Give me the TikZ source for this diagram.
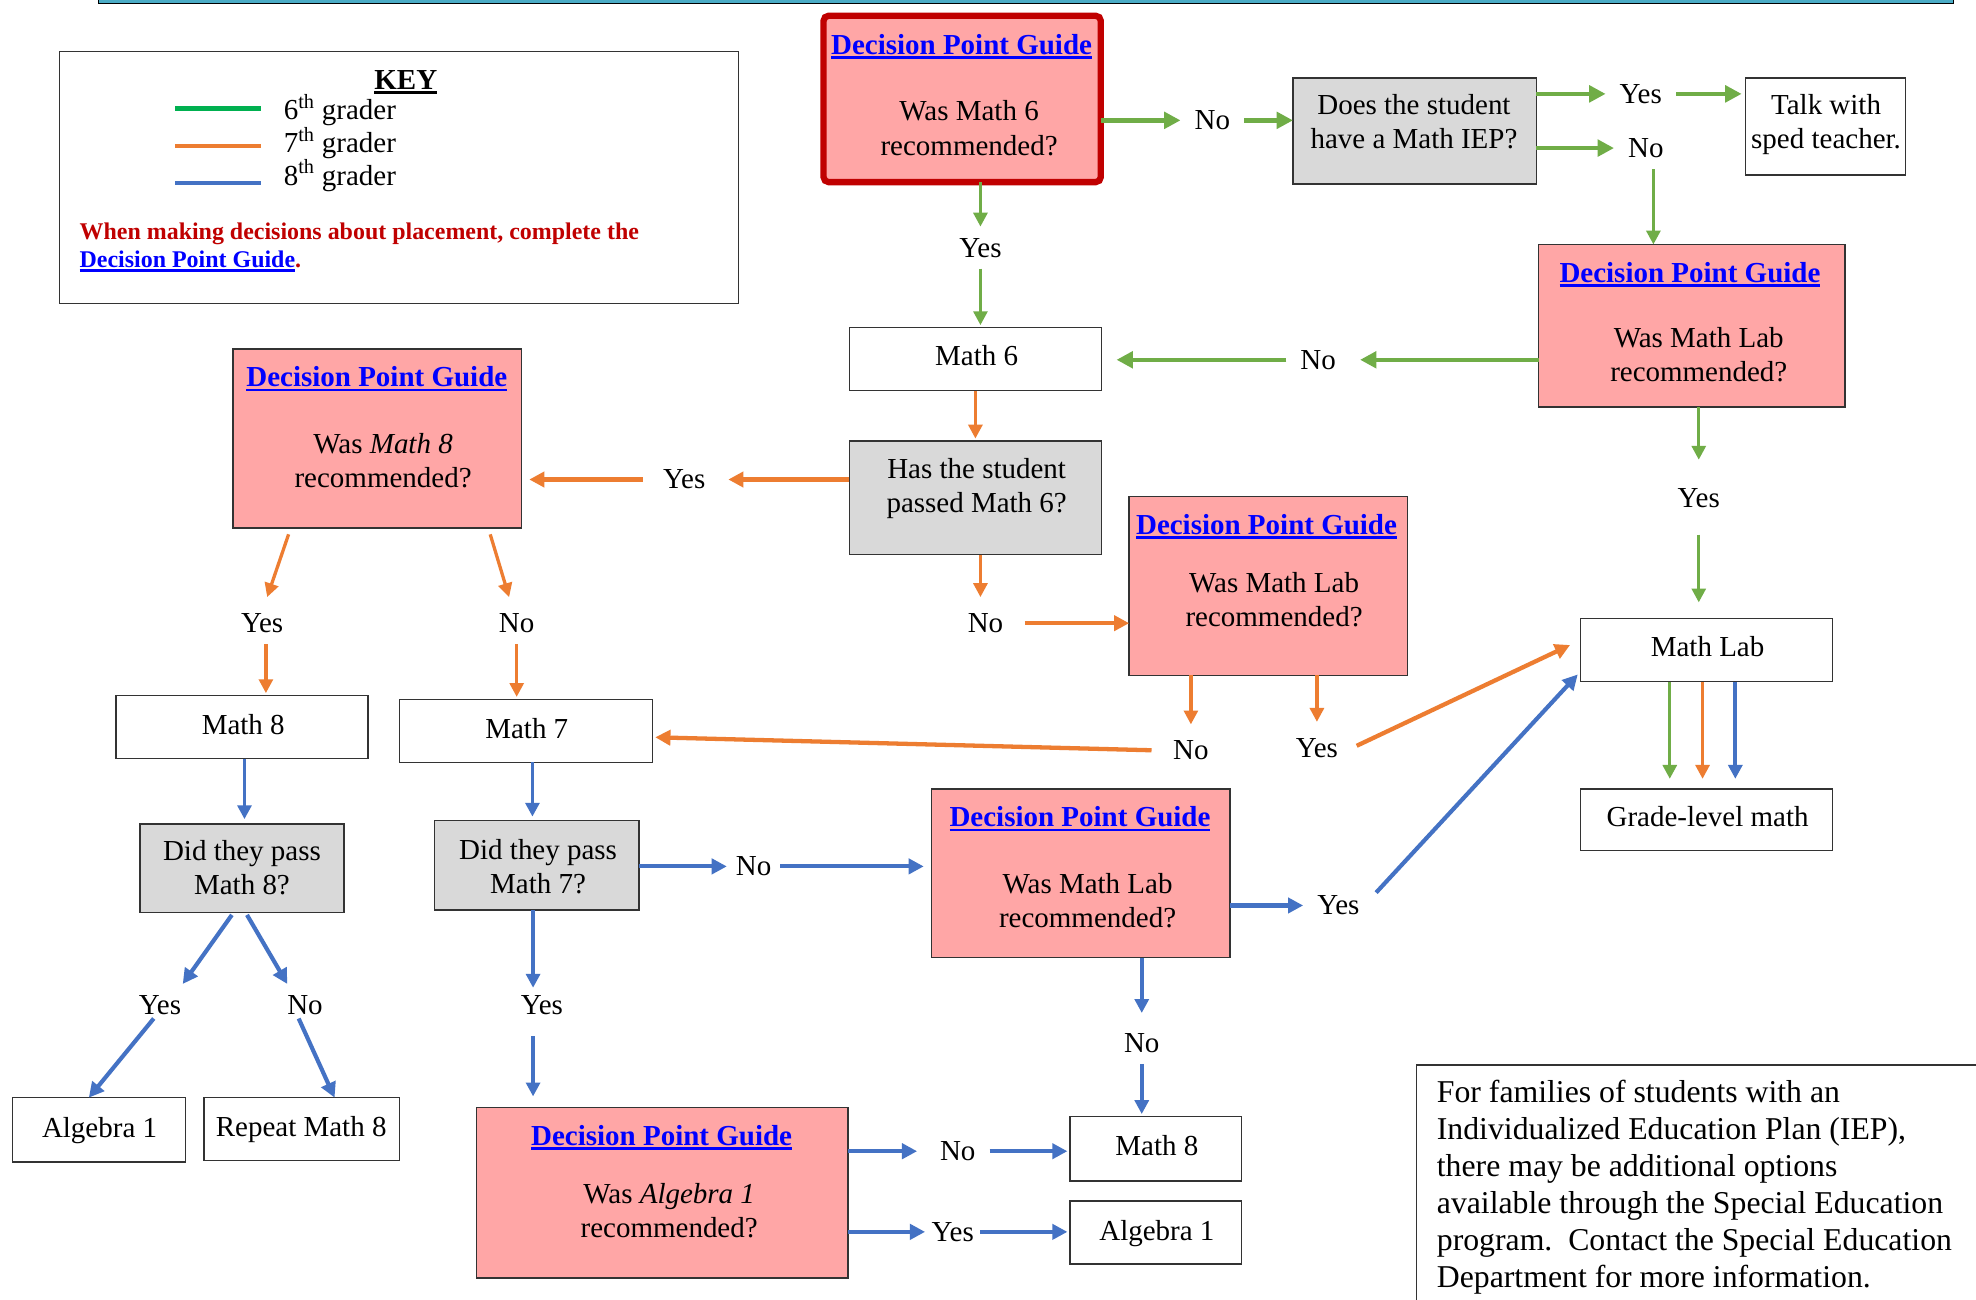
\documentclass[tikz,border=0pt]{standalone}
\usepackage{fontspec}
\setmainfont{Liberation Serif}
\usetikzlibrary{arrows.meta}
\definecolor{pinkf}{HTML}{FFA6A6}
\definecolor{grayf}{HTML}{D9D9D9}
\definecolor{gr}{HTML}{70AD47}
\definecolor{orr}{HTML}{ED7D31}
\definecolor{bl}{HTML}{4472C4}
\definecolor{keygreen}{HTML}{00B050}
\definecolor{dred}{HTML}{C00000}
\definecolor{linkblue}{HTML}{0000FF}
\definecolor{barteal}{HTML}{4BACC6}
\newcommand\fs{\fontsize{23}{27}\selectfont}
\newcommand\myul[1]{\setbox0=\hbox{#1}\rlap{\rule[-3.5pt]{\wd0}{2pt}}\box0}
\newcommand\dpgt{{\color{linkblue}\bfseries\myul{Decision Point Guide}}}
\newcommand\ml[1]{\begin{tabular}[t]{@{}c@{}}#1\end{tabular}}
\begin{document}
\begin{tikzpicture}[x=1pt,y=-1pt,
  box/.style={draw=black!80, line width=1.1pt, anchor=north west, inner sep=0pt, outer sep=0pt, fill=white},
  dpg/.style={box, fill=pinkf},
  qbox/.style={box, fill=grayf},
  txt/.style={anchor=base, inner sep=0pt, font=\fs},
  lbl/.style={anchor=base, font=\fs, inner xsep=11pt, inner ysep=9pt, text height=15pt, text depth=0pt},
  ga/.style={draw=gr, line width=3.6pt, -{Triangle[length=13pt,width=13pt]}},
  gat/.style={draw=gr, line width=2.6pt, -{Triangle[length=11pt,width=11pt]}},
  oa/.style={draw=orr, line width=3.4pt, -{Triangle[length=12pt,width=12pt]}},
  oat/.style={draw=orr, line width=2.6pt, -{Triangle[length=11pt,width=11pt]}},
  ba/.style={draw=bl, line width=3.3pt, -{Triangle[length=12pt,width=12pt]}},
  bat/.style={draw=bl, line width=3pt, -{Triangle[length=11pt,width=11pt]}}]
\useasboundingbox (0,0) rectangle (1568,1031);
\fill[white] (0,0) rectangle (1568,1031);
\clip (0,0) rectangle (1568,1031);
% top bar
\draw[fill=barteal, line width=0.8pt] (78,-2) rectangle (1550,2.5);

% key
\node[box, minimum width=539pt, minimum height=200pt] (key) at (47,41) {};
\node[txt, font=\fs\bfseries] (keyt) at (322,71) {\myul{KEY}};
\draw[keygreen, line width=3.5pt] (139,86) -- (207,86);
\draw[orr, line width=3.5pt] (139,116) -- (207,116);
\draw[bl, line width=3.5pt] (139,145) -- (207,145);
\node[txt, anchor=base west] (k6) at (225,95) {6\textsuperscript{th} grader};
\node[txt, anchor=base west] (k7) at (225,121) {7\textsuperscript{th} grader};
\node[txt, anchor=base west] (k8) at (225,147) {8\textsuperscript{th} grader};
\node[txt, anchor=base west, font=\fontsize{19}{22}\selectfont\bfseries, text=dred] (kred) at (63,190)
  {\begin{tabular}[t]{@{}l@{}}When making decisions about placement, complete the\\{\color{linkblue}\myul{Decision Point Guide}}.\end{tabular}};

% boxes
\node[dpg, draw=dred, line width=5pt, rounded corners=4pt, minimum width=220pt, minimum height=132pt] (A) at (653.5,12.5) {};
\node[txt] (At1) at (763,43) {\dpgt};
\node[txt] (At2) at (769,96) {\ml{Was Math 6\\recommended?}};

\node[qbox, minimum width=193pt, minimum height=84pt] (iep) at (1026,62) {};
\node[txt] (iept) at (1122,91) {\ml{Does the student\\have a Math IEP?}};

\node[box, minimum width=127pt, minimum height=77pt] (talk) at (1385,62) {};
\node[txt] (talkt) at (1449,91) {\ml{Talk with\\sped teacher.}};

\node[dpg, minimum width=243pt, minimum height=129pt] (B) at (1221,194) {};
\node[txt] (Bt1) at (1341,224) {\dpgt};
\node[txt] (Bt2) at (1348,276) {\ml{Was Math Lab\\recommended?}};

\node[box, minimum width=200pt, minimum height=50pt] (m6) at (674,260) {};
\node[txt] (m6t) at (775,290) {Math 6};

\node[qbox, minimum width=200pt, minimum height=90pt] (has) at (674,350) {};
\node[txt] (hast) at (775,380) {\ml{Has the student\\passed Math 6?}};

\node[dpg, minimum width=229pt, minimum height=142pt] (C) at (185,277) {};
\node[txt] (Ct1) at (299,307) {\dpgt};
\node[txt] (Ct2) at (304,360) {\ml{Was \textit{Math 8}\\recommended?}};

\node[dpg, minimum width=221pt, minimum height=142pt] (D) at (896,394) {};
\node[txt] (Dt1) at (1005,424) {\dpgt};
\node[txt] (Dt2) at (1011,470) {\ml{Was Math Lab\\recommended?}};

\node[box, minimum width=200pt, minimum height=50pt] (lab) at (1254,491) {};
\node[txt] (labt) at (1355,521) {Math Lab};

\node[box, minimum width=200pt, minimum height=49pt] (grade) at (1254,626) {};
\node[txt] (gradet) at (1355,656) {Grade-level math};

\node[box, minimum width=200pt, minimum height=50pt] (m8a) at (92,552) {};
\node[txt] (m8at) at (193,583) {Math 8};

\node[box, minimum width=201pt, minimum height=50pt] (m7) at (317,555) {};
\node[txt] (m7t) at (418,586) {Math 7};

\node[qbox, minimum width=162pt, minimum height=70pt] (p8) at (111,654) {};
\node[txt] (p8t) at (192,683) {\ml{Did they pass\\Math 8?}};

\node[qbox, minimum width=162pt, minimum height=71pt] (p7) at (345,651) {};
\node[txt] (p7t) at (427,682) {\ml{Did they pass\\Math 7?}};

\node[dpg, minimum width=237pt, minimum height=134pt] (E) at (739,626) {};
\node[txt] (Et1) at (857,656) {\dpgt};
\node[txt] (Et2) at (863,709) {\ml{Was Math Lab\\recommended?}};

\node[box, minimum width=136pt, minimum height=51pt] (m8b) at (849,886) {};
\node[txt] (m8bt) at (918,917) {Math 8};

\node[box, minimum width=136pt, minimum height=50pt] (alg1b) at (849,953) {};
\node[txt] (alg1bt) at (918,984) {Algebra 1};

\node[dpg, minimum width=295pt, minimum height=135pt] (F) at (378,879) {};
\node[txt] (Ft1) at (525,909) {\dpgt};
\node[txt] (Ft2) at (531,955) {\ml{Was \textit{Algebra 1}\\recommended?}};

\node[box, minimum width=137pt, minimum height=51pt] (alg1a) at (10,871) {};
\node[txt] (alg1at) at (79,903) {Algebra 1};

\node[box, minimum width=155pt, minimum height=50pt] (rep8) at (162,871) {};
\node[txt] (rep8t) at (239,902) {Repeat Math 8};

\node[box, minimum width=500pt, minimum height=250pt] (note) at (1124,845) {};
\node[txt, anchor=base west, font=\fontsize{25.2}{29.3}\selectfont] (notet) at (1140,875)
  {\begin{tabular}[t]{@{}l@{}}For families of students with an\\Individualized Education Plan (IEP),\\there may be additional options\\available through the Special Education\\program.\ \ Contact the Special Education\\Department for more information.\end{tabular}};

% labels
\node[lbl] (nNo1) at (962,103) {No};
\node[lbl] (nYes1) at (1302,82) {Yes};
\node[lbl] (nNo2) at (1306,125) {No};
\node[lbl] (nYes2) at (778,204) {Yes};
\node[lbl] (nNo3) at (1046,293) {No};
\node[lbl] (nYes3) at (1348,403) {Yes};
\node[lbl] (nYes4) at (543,388) {Yes};
\node[lbl] (nYes5) at (208,502) {Yes};
\node[lbl] (nNo4) at (410,502) {No};
\node[lbl] (nNo5) at (782,502) {No};
\node[lbl] (nNo6) at (945,603) {No};
\node[lbl] (nYes6) at (1045,601) {Yes};
\node[lbl, inner xsep=7pt] (nNo7) at (598,695) {No};
\node[lbl] (nYes7) at (1062,726) {Yes};
\node[lbl] (nNo8) at (906,835) {No};
\node[lbl] (nYes8) at (430,805) {Yes};
\node[lbl] (nNo9) at (760,921) {No};
\node[lbl, inner xsep=5pt] (nYes9) at (756,985) {Yes};
\node[lbl] (nYes10) at (127,805) {Yes};
\node[lbl] (nNo10) at (242,805) {No};

% green connectors
\draw[ga] (A.east |- nNo1.west) -- (nNo1.west);
\draw[ga] (nNo1.east) -- (iep.west |- nNo1.east);
\draw[ga] (iep.east |- nYes1.west) -- (nYes1.west);
\draw[ga, shorten >=3pt] (nYes1.east) -- (talk.west |- nYes1.east);
\draw[ga] (iep.east |- nNo2.west) -- (nNo2.west);
\draw[gat] ([xshift=6pt]nNo2.south) -- ([xshift=6pt]nNo2.south |- B.north);
\draw[gat] (A.south -| nYes2.north) -- (nYes2.north);
\draw[gat, shorten >=2pt] (nYes2.south) -- (nYes2.south |- m6.north);
\draw[ga, shorten >=8pt] (B.west |- nNo3.east) -- (nNo3.east);
\draw[ga, shorten >=12pt] (nNo3.west) -- (m6.east |- nNo3.west);
\draw[gat, shorten >=14pt] (B.south -| nYes3.north) -- (nYes3.north);
\draw[gat, shorten <=12pt, shorten >=13pt] (nYes3.south) -- (nYes3.south |- lab.north);
\draw[gat, shorten >=8pt] ([xshift=-29pt]lab.south) -- ([xshift=-29pt]lab.south |- grade.north);

% orange connectors
\draw[oat, shorten >=2pt] (m6.south) -- (has.north);
\draw[oa, shorten >=7pt] (has.west |- nYes4.east) -- (nYes4.east);
\draw[oa, shorten <=5pt, shorten >=6pt] (nYes4.west) -- (C.east |- nYes4.west);
\draw[oat] ([xshift=44pt,yshift=-5pt]C.south west) -- ([xshift=4pt,yshift=4pt]nYes5.north);
\draw[oat, shorten >=2pt] ([xshift=3pt]nYes5.south) -- ([xshift=3pt]nYes5.south |- m8a.north);
\draw[oat] ([xshift=-25pt,yshift=-5pt]C.south east) -- ([xshift=-6pt,yshift=4pt]nNo4.north);
\draw[oat, shorten >=2pt] (nNo4.south) -- (nNo4.south |- m7.north);
\draw[oat] ([xshift=4pt]has.south) -- ([xshift=4pt,yshift=4pt]has.south |- nNo5.north);
\draw[oa, shorten <=6pt] (nNo5.east) -- (D.west |- nNo5.east);
\draw[oat] (D.south -| nNo6.north) -- ([yshift=4pt]nNo6.north);
\draw[oa, shorten <=6pt, shorten >=2pt] (nNo6.west) -- ([yshift=-5pt]m7.east);
\draw[oat] (D.south -| nYes6.north) -- ([yshift=4pt]nYes6.north);
\draw[oa, shorten <=4pt, shorten >=9pt] (nYes6.east) -- ([yshift=8pt]lab.west);
\draw[oat, shorten >=8pt] ([xshift=-3pt]lab.south) -- ([xshift=-3pt]lab.south |- grade.north);

% blue connectors
\draw[bat, shorten >=8pt] ([xshift=23pt]lab.south) -- ([xshift=23pt]lab.south |- grade.north);
\draw[bat, shorten >=4pt] ([xshift=2pt]m8a.south) -- ([xshift=2pt]m8a.south |- p8.north);
\draw[bat, shorten >=3pt] ([xshift=5pt]m7.south) -- ([xshift=5pt]m7.south |- p7.north);
\draw[ba] (p7.east |- nNo7.west) -- (nNo7.west);
\draw[ba, shorten >=6pt] (nNo7.east) -- (E.west |- nNo7.east);
\draw[ba] (E.east |- nYes7.west) -- (nYes7.west);
\draw[ba, shorten <=3pt, shorten >=3pt] ([yshift=8pt]nYes7.east) -- ([yshift=8pt]lab.south west);
\draw[bat] (nNo8.north |- E.south) -- ([yshift=7pt]nNo8.north);
\draw[bat, shorten >=2pt] (nNo8.south) -- (nNo8.south |- m8b.north);
\draw[bat] ([xshift=-3pt]p7.south) -- ([xshift=-3pt,yshift=-3pt]p7.south |- nYes8.north);
\draw[bat, shorten <=8pt, shorten >=9pt] ([xshift=-3pt]p7.south |- nYes8.south) -- ([xshift=-3pt]p7.south |- F.north);
\draw[ba, shorten >=7pt] (F.east |- nNo9.west) -- (nNo9.west);
\draw[ba, shorten >=2pt] (nNo9.east) -- (m8b.west |- nNo9.east);
\draw[ba] (F.east |- nYes9.west) -- (nYes9.west);
\draw[ba, shorten >=2pt] (nYes9.east) -- (alg1b.west |- nYes9.east);
\draw[ba] ([xshift=-8pt,yshift=-2pt]p8.south) -- ([xshift=18pt]nYes10.north);
\draw[ba] ([xshift=-5pt,yshift=6pt]nYes10.south) -- ([xshift=-8pt]alg1a.north);
\draw[ba] ([xshift=4pt,yshift=-2pt]p8.south) -- ([xshift=-14pt]nNo10.north);
\draw[ba] ([xshift=-5pt,yshift=6pt]nNo10.south) -- ([xshift=26pt]rep8.north);
\end{tikzpicture}
\end{document}
